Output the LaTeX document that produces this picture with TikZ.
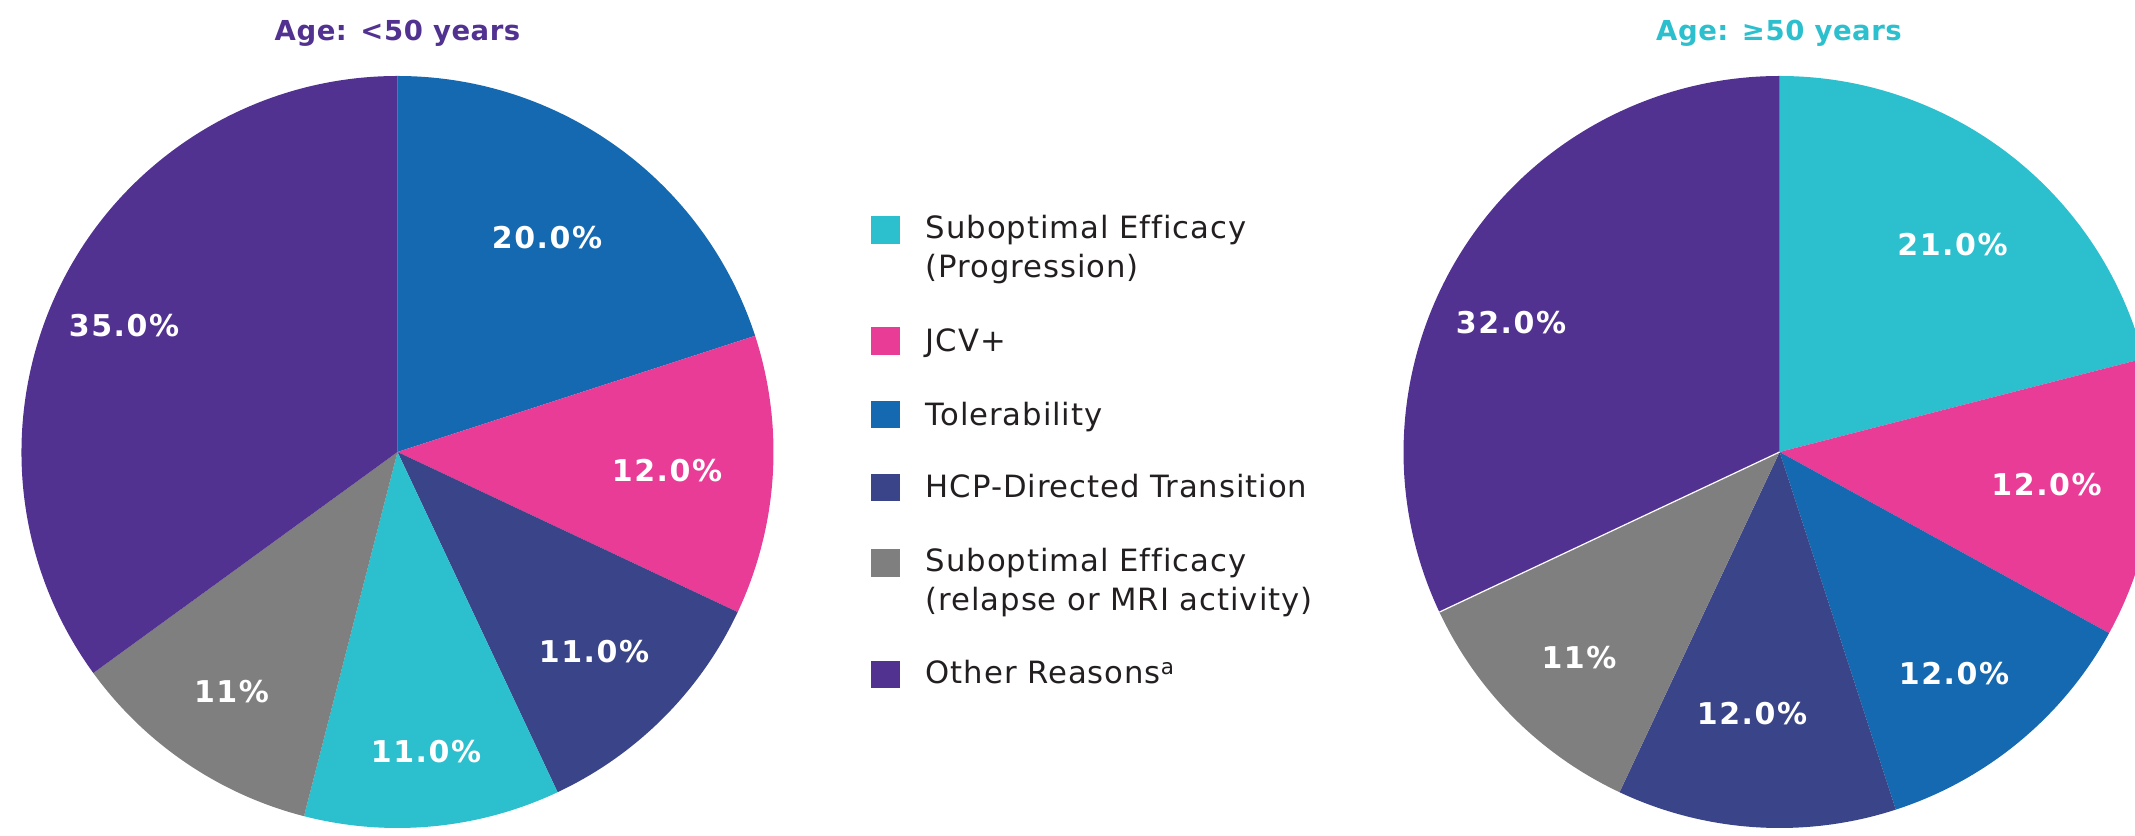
\documentclass[tikz,border=0pt]{standalone}
\usepackage{fontspec}
\setmainfont{DejaVu Sans}
\newfontfamily\lblfont[LetterSpace=5]{DejaVu Sans Bold}
\newfontfamily\ttlfont[LetterSpace=2]{DejaVu Sans Bold}
\newfontfamily\legfont[LetterSpace=3,Ligatures=NoCommon]{DejaVu Sans}
\definecolor{ccyan}{HTML}{2CBFCD}
\definecolor{cpink}{HTML}{E83C96}
\definecolor{cblue}{HTML}{1569B0}
\definecolor{cnavy}{HTML}{3A4488}
\definecolor{cgray}{HTML}{7F7F7F}
\definecolor{cpurple}{HTML}{523291}
\definecolor{ctext}{HTML}{231F20}
\begin{document}
\begin{tikzpicture}[x=1pt,y=1pt,
  pct/.style={text=white,inner sep=0pt,anchor=center,font=\lblfont\fontsize{30}{32}\selectfont},
  ttl/.style={inner sep=0pt,anchor=base,font=\ttlfont\fontsize{27.5}{30}\selectfont},
  legtxt/.style={inner sep=0pt,anchor=base west,text=ctext,font=\legfont\fontsize{30.7}{39}\selectfont},
  legsq/.style={inner sep=0pt,minimum width=29.3pt,minimum height=27.5pt,anchor=north west}]
\useasboundingbox (0,0) rectangle (2135,835);
\clip (0,0) rectangle (2135,835);
\def\R{376}
% ---- left pie
\coordinate (L) at (397.5,383);
\fill[cblue]   (L) -- ++(90:\R)    arc[start angle=90,    end angle=18,     radius=\R] -- cycle;
\fill[cpink]   (L) -- ++(18:\R)    arc[start angle=18,    end angle=-25.2,  radius=\R] -- cycle;
\fill[cnavy]   (L) -- ++(-25.2:\R) arc[start angle=-25.2, end angle=-64.8,  radius=\R] -- cycle;
\fill[ccyan]   (L) -- ++(-64.8:\R) arc[start angle=-64.8, end angle=-104.4, radius=\R] -- cycle;
\fill[cgray]   (L) -- ++(-104.4:\R) arc[start angle=-104.4, end angle=-144, radius=\R] -- cycle;
\fill[cpurple] (L) -- ++(-144:\R)  arc[start angle=-144,  end angle=-270,   radius=\R] -- cycle;
% ---- right pie
\coordinate (P) at (1779.6,383);
\fill[ccyan]   (P) -- ++(90:\R)    arc[start angle=90,    end angle=14.4,   radius=\R] -- cycle;
\fill[cpink]   (P) -- ++(14.4:\R)  arc[start angle=14.4,  end angle=-28.8,  radius=\R] -- cycle;
\fill[cblue]   (P) -- ++(-28.8:\R) arc[start angle=-28.8, end angle=-72,    radius=\R] -- cycle;
\fill[cnavy]   (P) -- ++(-72:\R)   arc[start angle=-72,   end angle=-115.2, radius=\R] -- cycle;
\fill[cgray]   (P) -- ++(-115.2:\R) arc[start angle=-115.2, end angle=-154.8, radius=\R] -- cycle;
\fill[cpurple] (P) -- ++(-154.8:\R) arc[start angle=-154.8, end angle=-270, radius=\R] -- cycle;
\draw[white,line width=1.2pt] (P) -- ++(-154.8:\R);
% ---- titles
\node[ttl,text=cpurple] (t1) at (397.5,794.3) {Age: <50 years};
\node[ttl,text=ccyan]   (t2) at (1779,794.3) {Age: ≥50 years};
% ---- left labels
\node[pct] (l1) at (547,597) {20.0\%};
\node[pct] (l2) at (667,364) {12.0\%};
\node[pct] (l3) at (594,183) {11.0\%};
\node[pct] (l4) at (426,83) {11.0\%};
\node[pct] (l5) at (231.5,143) {11\%};
\node[pct] (l6) at (124,509) {35.0\%};
% ---- right labels
\node[pct] (r1) at (1952.5,590) {21.0\%};
\node[pct] (r2) at (2046.5,350.4) {12.0\%};
\node[pct] (r3) at (1954,161.4) {12.0\%};
\node[pct] (r4) at (1752,121.4) {12.0\%};
\node[pct] (r5) at (1579,177.4) {11\%};
\node[pct] (r6) at (1511,512) {32.0\%};
% ---- legend
\node[legsq,fill=ccyan]   (s1) at (870.6,618.8) {};
\node[legsq,fill=cpink]   (s2) at (870.6,508) {};
\node[legsq,fill=cblue]   (s3) at (870.6,434.6) {};
\node[legsq,fill=cnavy]   (s4) at (870.6,361.6) {};
\node[legsq,fill=cgray]   (s5) at (870.6,285.9) {};
\node[legsq,fill=cpurple] (s6) at (870.6,174.6) {};
\node[legtxt] (e1a) at (925.7,596.5) {Suboptimal Efficacy};
\node[legtxt] (e1b) at (925.7,557.5) {(Progression)};
\node[legtxt] (e2)  at (925.7,483.9) {JCV+};
\node[legtxt] (e3)  at (925.7,409.8) {Tolerability};
\node[legtxt] (e4)  at (925.7,337.5) {HCP-Directed Transition};
\node[legtxt] (e5a) at (925.7,263.1) {Suboptimal Efficacy};
\node[legtxt] (e5b) at (925.7,224.6) {(relapse or MRI activity)};
\node[legtxt] (e6)  at (925.7,151.6) {Other Reasons\textsuperscript{a}};
\end{tikzpicture}
\end{document}
